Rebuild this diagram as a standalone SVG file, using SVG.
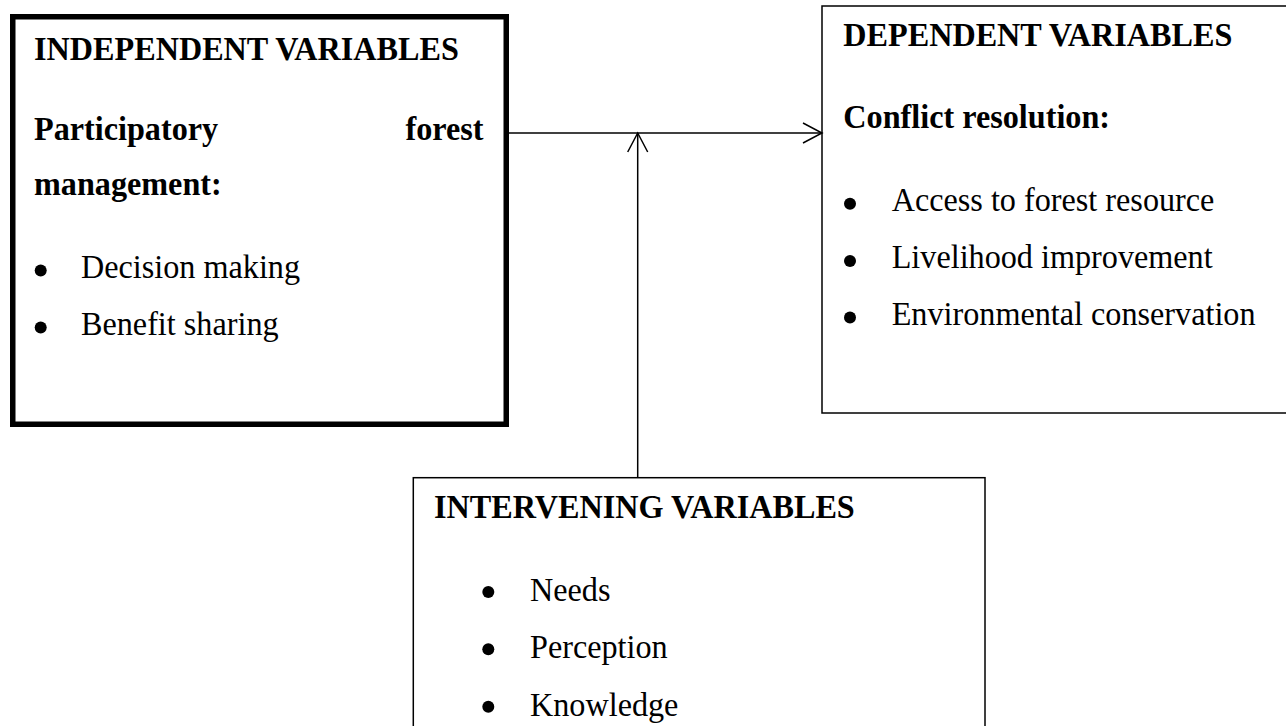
<svg xmlns="http://www.w3.org/2000/svg" width="1286" height="726" viewBox="0 0 1286 726">
<style>
  .box{fill:#fff;stroke:#000;stroke-width:1.5}
  .thick{fill:#fff;stroke:#000;stroke-width:5.5}
  .h{font-family:"Liberation Serif","Times New Roman",serif;font-weight:bold;font-size:32.2px;fill:#000}
  .t{font-family:"Liberation Serif","Times New Roman",serif;font-size:32.2px;fill:#000}
  .b{fill:#000}
  .conn{fill:none;stroke:#000;stroke-width:1.5}
</style>
<defs>
  <marker id="arr" markerUnits="userSpaceOnUse" markerWidth="22" markerHeight="24" viewBox="0 0 22 24" refX="20" refY="11" orient="auto">
    <path d="M1,1 L20,11 L1,21" fill="none" stroke="#000" stroke-width="1.5"/>
  </marker>
</defs>
<rect width="1286" height="726" fill="#fff"/>
<g id="independent">
  <rect class="thick" x="12.75" y="16.75" width="493.5" height="407.5"/>
  <text class="h" transform="matrix(1 0 0 1.06 34 59.5)">INDEPENDENT VARIABLES</text>
  <text class="h" transform="matrix(1 0 0 1.06 34 139.5)">Participatory</text>
  <text class="h" text-anchor="end" transform="matrix(1 0 0 1.06 483.5 139.5)">forest</text>
  <text class="h" transform="matrix(1 0 0 1.06 34 195)">management:</text>
  <circle class="b" cx="40.7" cy="270.5" r="6"/>
  <text class="t" transform="matrix(1 0 0 1.06 81 277.7)">Decision making</text>
  <circle class="b" cx="40.7" cy="327.5" r="6"/>
  <text class="t" transform="matrix(1 0 0 1.06 81 335)">Benefit sharing</text>
</g>
<g id="dependent">
  <rect class="box" x="822" y="6" width="470" height="407"/>
  <text class="h" transform="matrix(1 0 0 1.06 843.3 46)">DEPENDENT VARIABLES</text>
  <text class="h" transform="matrix(1 0 0 1.06 843.3 128.3)">Conflict resolution:</text>
  <circle class="b" cx="850" cy="203.7" r="6"/>
  <text class="t" transform="matrix(1 0 0 1.06 891.7 210.7)">Access to forest resource</text>
  <circle class="b" cx="850" cy="261" r="6"/>
  <text class="t" transform="matrix(1 0 0 1.06 891.7 268.3)">Livelihood improvement</text>
  <circle class="b" cx="850" cy="317.5" r="6"/>
  <text class="t" transform="matrix(1 0 0 1.06 891.7 325)">Environmental conservation</text>
</g>
<g id="intervening">
  <rect class="box" x="413.3" y="477.7" width="571.7" height="260"/>
  <text class="h" transform="matrix(1 0 0 1.06 434 517.7)">INTERVENING VARIABLES</text>
  <circle class="b" cx="488.3" cy="592" r="6"/>
  <text class="t" transform="matrix(1 0 0 1.06 530 601)">Needs</text>
  <circle class="b" cx="488.3" cy="649.3" r="6"/>
  <text class="t" transform="matrix(1 0 0 1.06 530 658.3)">Perception</text>
  <circle class="b" cx="488.3" cy="706.7" r="6"/>
  <text class="t" transform="matrix(1 0 0 1.06 530 716)">Knowledge</text>
</g>
<g id="connectors">
  <line class="conn" x1="509" y1="133" x2="822" y2="133" marker-end="url(#arr)"/>
  <line class="conn" x1="637.7" y1="477.7" x2="637.7" y2="133" marker-end="url(#arr)"/>
</g>
</svg>
